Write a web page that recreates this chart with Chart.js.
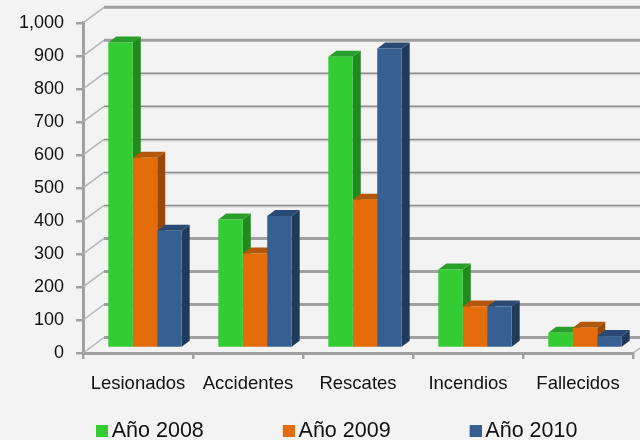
<!DOCTYPE html>
<html>
<head>
<meta charset="utf-8">
<style>
	html, body { margin: 0; padding: 0; background: #f3f3f3; overflow: hidden; }
	#wrap { width: 640px; height: 440px; }
</style>
<script src="https://cdn.jsdelivr.net/npm/chart.js@4"></script>
</head>
<body>
<div id="wrap"><canvas id="myChart" width="640" height="440"></canvas></div>
<script>
const categories = ['Lesionados', 'Accidentes', 'Rescates', 'Incendios', 'Fallecidos'];
const seriesNames = ['Año 2008', 'Año 2009', 'Año 2010'];
const values2008 = [925, 389, 882, 238, 46];
const values2009 = [576, 286, 449, 126, 61];
const values2010 = [355, 400, 907, 126, 36];

const frontColors = ['#33cc33', '#e46c0a', '#366092'];
const sideColors = ['#208a20', '#984807', '#203a5a'];
const topColors = ['#2a9e2a', '#b35708', '#2a4a75'];

// offset of the bars from the front of the floor, and of the bars' own depth
const barShift = { x: 7, y: -5 };
const barDepth = { x: 8, y: -6 };
const wallShift = { x: 21, y: -15.5 };
const axisGray = '#a0a0a0';

// legend swatch: the square sits at the right of a wider canvas so it ends up near the text
function legendSwatch(color) {
	const swatch = document.createElement('canvas');
	swatch.width = 30;
	swatch.height = 12;
	const c = swatch.getContext('2d');
	c.fillStyle = color;
	c.fillRect(18, 0, 12, 12);
	return swatch;
}

const wallPlugin = {
	id: 'wall',
	beforeInit(chart) {
		// keep the legend on one row, and its wide padding out of the plot height
		const legend = chart.legend;
		const fit = legend.fit;
		legend.fit = function () {
			this.maxWidth = chart.width + 100;
			fit.call(this);
			this.width = chart.width;
			this.height = 26;
		};
	},
	afterLayout(chart) {
		chart.legend.left = 17;
		chart.legend.right = chart.width + 100;
		chart.legend.top = 352;
	},
	beforeDatasetsDraw(chart) {
		const { ctx, chartArea, scales } = chart;
		ctx.save();
		scales.y.ticks.forEach((tick) => {
			const y = scales.y.getPixelForValue(tick.value);
			const backY = y + wallShift.y;
			// back wall, rough line weights as seen on the picture
			const heavy = tick.value <= 300 || tick.value >= 900;
			if (!heavy) {
				ctx.strokeStyle = '#d8d8d8';
				ctx.lineWidth = 1.5;
				ctx.beginPath();
				ctx.moveTo(chartArea.left + wallShift.x, backY + 1.5);
				ctx.lineTo(chart.width, backY + 1.5);
				ctx.stroke();
			}
			ctx.strokeStyle = heavy ? axisGray : '#8c8c8c';
			ctx.lineWidth = heavy ? 3 : 1.5;
			ctx.beginPath();
			ctx.moveTo(chartArea.left + wallShift.x, backY);
			ctx.lineTo(chart.width, backY);
			ctx.stroke();
			// left wall
			ctx.strokeStyle = '#b4b4b4';
			ctx.lineWidth = 1.5;
			ctx.beginPath();
			ctx.moveTo(chartArea.left, y);
			ctx.lineTo(chartArea.left + wallShift.x, backY);
			ctx.stroke();
		});
		// bit of the floor edge at the right
		ctx.beginPath();
		ctx.moveTo(chartArea.right, chartArea.bottom);
		ctx.lineTo(chart.width, chartArea.bottom + barShift.y);
		ctx.stroke();

		// side and top faces go first, the front faces of the next series cover them
		ctx.translate(barShift.x, barShift.y);
		chart.data.datasets.forEach((ds, i) => {
			chart.getDatasetMeta(i).data.forEach((bar) => {
				const right = bar.x + bar.width / 2;
				const left = bar.x - bar.width / 2;
				ctx.fillStyle = sideColors[i];
				ctx.beginPath();
				ctx.moveTo(right, bar.y);
				ctx.lineTo(right + barDepth.x, bar.y + barDepth.y);
				ctx.lineTo(right + barDepth.x, bar.base + barDepth.y);
				ctx.lineTo(right, bar.base);
				ctx.closePath();
				ctx.fill();
				ctx.fillStyle = topColors[i];
				ctx.beginPath();
				ctx.moveTo(left, bar.y);
				ctx.lineTo(left + barDepth.x, bar.y + barDepth.y);
				ctx.lineTo(right + barDepth.x, bar.y + barDepth.y);
				ctx.lineTo(right, bar.y);
				ctx.closePath();
				ctx.fill();
			});
		});
		ctx.restore();
	},
	beforeDatasetDraw(chart) {
		chart.ctx.save();
		chart.ctx.translate(barShift.x, barShift.y);
	},
	afterDatasetDraw(chart) {
		chart.ctx.restore();
	}
};

function makeDataset(index, values) {
	return {
		label: seriesNames[index],
		data: values,
		backgroundColor: frontColors[index],
		clip: false
	};
}

new Chart(document.getElementById('myChart'), {
	type: 'bar',
	data: {
		labels: categories,
		datasets: [makeDataset(0, values2008), makeDataset(1, values2009), makeDataset(2, values2010)]
	},
	plugins: [wallPlugin],
	options: {
		responsive: false,
		animation: false,
		locale: 'en-US',
		layout: { padding: { top: 21, right: 7, left: 0, bottom: 0 } },
		datasets: { bar: { categoryPercentage: 0.667, barPercentage: 1 } },
		plugins: {
			title: { display: false },
			tooltip: { enabled: false },
			legend: {
				position: 'bottom',
				align: 'start',
				labels: {
					usePointStyle: true,
					pointStyleWidth: 16,
					boxHeight: 12,
					padding: 68,
					color: '#111111',
					font: { family: 'Liberation Sans', size: 21.5 },
					generateLabels(chart) {
						const items = Chart.defaults.plugins.legend.labels.generateLabels(chart);
						items.forEach((item, i) => {
							item.pointStyle = legendSwatch(frontColors[i]);
						});
						return items;
					}
				}
			}
		},
		scales: {
			x: {
				afterFit(scale) { scale.height = 61; },
				grid: { drawOnChartArea: false, color: axisGray, lineWidth: 2.5, tickLength: 6 },
				border: { color: axisGray, width: 3 },
				ticks: { color: '#111111', padding: 14, maxRotation: 0, font: { family: 'Liberation Sans', size: 18.5 } }
			},
			y: {
				min: 0,
				max: 1000,
				afterFit(scale) { scale.width = 83; },
				grid: { drawOnChartArea: false, color: axisGray, lineWidth: 2.5, tickLength: 7 },
				border: { color: axisGray, width: 3 },
				ticks: { stepSize: 100, color: '#111111', padding: 12, font: { family: 'Liberation Sans', size: 18 } }
			}
		}
	}
});
</script>
</body>
</html>
